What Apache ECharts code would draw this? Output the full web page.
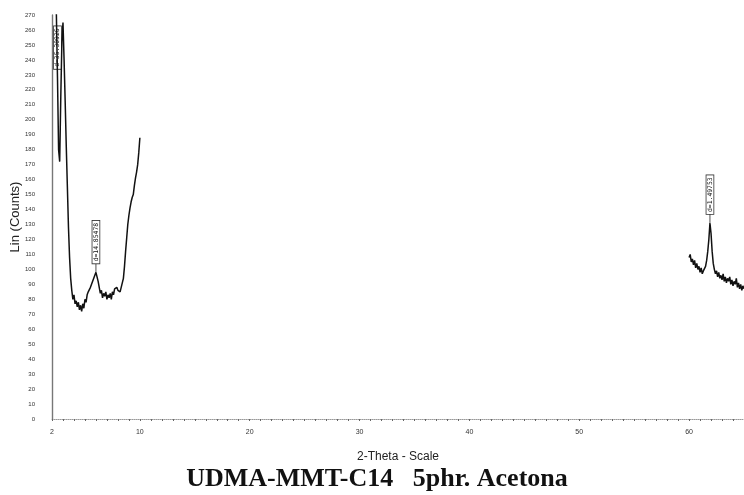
<!DOCTYPE html>
<html>
<head>
<meta charset="utf-8">
<script src="https://cdn.jsdelivr.net/npm/echarts@6/dist/echarts.min.js"></script>
<style>
  html, body { margin: 0; padding: 0; background: #fff; }
  #chart { width: 744px; height: 495px; }
</style>
</head>
<body>
<div id="chart"></div>
<script>
// Scan step (degrees 2-Theta) and start angle of each measured range
const scanStep = 0.1;
const lowStart = 2.0;
const highStart = 60.0;

// Low-angle range, 2.0 .. 10.0 deg, counts
const lowCounts = [
  300, 300, 295, 285, 270, 228, 180, 172, 215, 252,
  265, 240, 212, 182, 155, 128, 108, 94, 86, 80,
  83, 77, 79, 75, 78, 73, 76, 72, 77, 74,
  80, 78, 83, 85, 84, 88, 90, 92, 94, 96,
  98, 95, 92, 88, 84, 86, 81, 84, 82, 85,
  80, 83, 81, 84, 80, 85, 83, 87, 86, 88,
  86, 87, 85, 88, 89, 94, 102, 112, 121, 130,
  136, 141, 145, 148, 150, 156, 161, 165, 170, 178,
  188
];

// High-angle range, 60.0 .. 65.0 deg, counts
const highCounts = [
  108, 110, 105, 107, 103, 106, 101, 104, 100, 102,
  98, 101, 97, 99, 100, 102, 106, 112, 120, 131,
  124, 112, 104, 100, 97, 99, 95, 98, 94, 96,
  93, 97, 92, 95, 91, 94, 92, 95, 90, 93,
  89, 92, 90, 94, 88, 91, 87, 90, 86, 89,
  87
];

// Marked reflections: angle and d-spacing text
const peakAngles = [2.5, 6.0, 61.9];
const peakLabels = ['d=35.30926', 'd=14.85478', 'd=1.49753'];

// Axis tick labels
const xTickValues = [2, 10, 20, 30, 40, 50, 60];
const yMin = 0, yMax = 270, yStep = 10;
const xMin = 2, xMax = 65;

const toPairs = (start, counts) =>
  counts.map((c, i) => [+(start + i * scanStep).toFixed(2), c]);

const lowData = toPairs(lowStart, lowCounts);
const highData = toPairs(highStart, highCounts);
const allData = lowData.concat(highData);

// counts at each marked angle, taken from the scan itself
const peakData = peakAngles.map(a => {
  let best = allData[0];
  allData.forEach(p => { if (Math.abs(p[0] - a) < Math.abs(best[0] - a)) best = p; });
  return [best[0], best[1]];
});

const minorTicks = [];
for (let v = xMin; v <= xMax; v += 1) minorTicks.push(v);

const measureCtx = document.createElement('canvas').getContext('2d');
const labelFont = '6.4px "DejaVu Sans Mono"';

const chart = echarts.init(document.getElementById('chart'), null, { renderer: 'canvas' });

const lineSeries = (data) => ({
  type: 'line',
  data: data,
  symbol: 'none',
  clip: true,
  lineStyle: { color: '#111', width: 1.5 },
  silent: true,
  animation: false
});

chart.setOption({
  animation: false,
  backgroundColor: '#ffffff',
  title: {
    text: 'UDMA-MMT-C14   5phr. Acetona',
    left: 372,
    textAlign: 'center',
    top: 461,
    textStyle: {
      fontFamily: '"Liberation Serif", serif',
      fontWeight: 'bold',
      fontSize: 26,
      color: '#111'
    }
  },
  grid: { left: 52, right: 0, top: 15, bottom: 76, containLabel: false, outerBoundsMode: 'none' },
  xAxis: {
    type: 'value',
    min: xMin,
    max: xMax,
    name: '2-Theta - Scale',
    nameLocation: 'middle',
    nameGap: 32,
    nameMoveOverlap: false,
    nameTextStyle: { fontFamily: '"Liberation Sans", Arial', fontSize: 12, color: '#222' },
    axisLine: { show: true, lineStyle: { color: '#999', width: 1, type: 'dotted' } },
    axisTick: { show: true, customValues: minorTicks, length: 2, lineStyle: { color: '#666', width: 1 } },
    axisLabel: {
      customValues: xTickValues,
      fontFamily: '"Liberation Sans", Arial',
      fontSize: 7,
      color: '#333',
      margin: 10
    },
    splitLine: { show: false }
  },
  yAxis: {
    type: 'value',
    min: yMin,
    max: yMax,
    interval: yStep,
    name: 'Lin (Counts)',
    nameLocation: 'middle',
    nameGap: 30,
    nameMoveOverlap: false,
    nameTextStyle: { fontFamily: '"Liberation Sans", Arial', fontSize: 13, color: '#222' },
    axisLine: { show: true, lineStyle: { color: '#777', width: 1.4 } },
    axisTick: { show: false },
    axisLabel: {
      fontFamily: '"Liberation Sans", Arial',
      fontSize: 6,
      color: '#333',
      margin: 17
    },
    splitLine: { show: false }
  },
  series: [
    lineSeries(lowData),
    lineSeries(highData),
    {
      type: 'custom',
      data: peakData,
      silent: true,
      clip: false,
      renderItem: (params, api) => {
        const p = api.coord([api.value(0), api.value(1)]);
        const text = peakLabels[params.dataIndex];
        measureCtx.font = labelFont;
        const len = measureCtx.measureText(text).width + 4;
        const topLimit = params.coordSys.y + 6;
        let base = p[1] - 9;
        if (base - len < topLimit) base = topLimit + len;
        return {
          type: 'group',
          children: [
            {
              type: 'line',
              shape: { x1: p[0], y1: Math.max(p[1], base), x2: p[0], y2: base },
              style: { stroke: '#222', lineWidth: 0.8 }
            },
            {
              type: 'text',
              x: p[0],
              y: base,
              rotation: Math.PI / 2,
              style: {
                text: text,
                font: labelFont,
                fill: '#111',
                align: 'left',
                verticalAlign: 'middle',
                backgroundColor: '#fff',
                borderColor: '#333',
                borderWidth: 0.8,
                padding: [1, 2, 0, 2]
              }
            }
          ]
        };
      }
    }
  ]
});
</script>
</body>
</html>
